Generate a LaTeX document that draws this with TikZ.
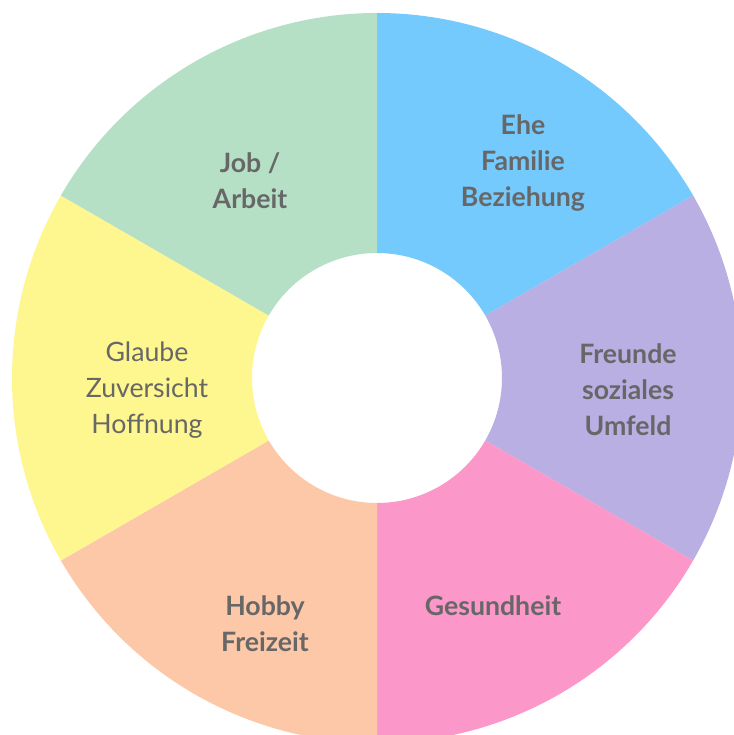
\documentclass[tikz,border=0pt]{standalone}
\usepackage{fontspec}
\setmainfont{Lato}
\definecolor{ehe}{HTML}{74C9FD}
\definecolor{freunde}{HTML}{B9AFE3}
\definecolor{gesund}{HTML}{FC97C9}
\definecolor{hobby}{HTML}{FDC8A8}
\definecolor{glaube}{HTML}{FEF68E}
\definecolor{job}{HTML}{B5E0C6}
\definecolor{schrift}{HTML}{676767}
\tikzset{
  label/.style={align=center,text=schrift,font=\fontsize{20}{27}\selectfont\bfseries},
  label light/.style={label,font=\fontsize{20}{27}\selectfont}
}
\begin{document}
\begin{tikzpicture}[x=0.75pt,y=0.75pt]
  \useasboundingbox (-377,-357) rectangle (357,378);
  \clip (-377,-357) rectangle (357,378);
  \fill [white] (-377,-357) rectangle (357,378);
  % Ringsegmente
  \foreach \s/\e/\c in {30/90/ehe,-30/30/freunde,-90/-30/gesund,210/270/hobby,150/210/glaube,90/150/job}{
    \fill [\c] (\s:125) arc[start angle=\s,end angle=\e,radius=125] -- (\e:365) arc[start angle=\e,end angle=\s,radius=365] -- cycle;
  }
  % Beschriftungen
  \node [label] (ehe) at (146,215) {Ehe\\Familie\\Beziehung};
  \node [label] (job) at (-127,197) {Job /\\Arbeit};
  \node [label light] (glaube) at (-230,-12) {Glaube\\Zuversicht\\Hoffnung};
  \node [label] (freunde) at (251,-12) {Freunde\\soziales\\Umfeld};
  \node [label] (gesund) at (116,-228) {Gesundheit};
  \node [label] (hobby) at (-112,-246) {Hobby\\Freizeit};
\end{tikzpicture}
\end{document}
